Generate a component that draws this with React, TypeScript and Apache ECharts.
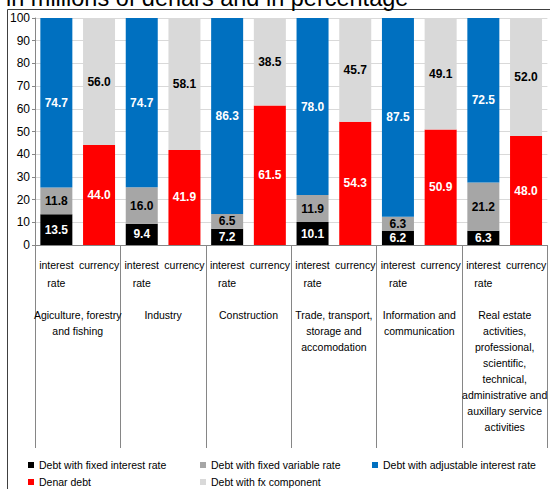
import React, { useEffect, useRef } from 'react';
import * as echarts from 'echarts';

const groups = [
  'Agiculture, forestry\nand fishing',
  'Industry',
  'Construction',
  'Trade, transport,\nstorage and\naccomodation',
  'Information and\ncommunication',
  'Real estate\nactivities,\nprofessional,\nscientific,\ntechnical,\nadministrative and\nauxillary service\nactivities',
];
const barTypes = ['interest\nrate', 'currency'];

const fixedRate = [13.5, 9.4, 7.2, 10.1, 6.2, 6.3];
const fixedVariable = [11.8, 16.0, 6.5, 11.9, 6.3, 21.2];
const adjustable = [74.7, 74.7, 86.3, 78.0, 87.5, 72.5];
const denar = [44.0, 41.9, 61.5, 54.3, 50.9, 48.0];
const fxComponent = [56.0, 58.1, 38.5, 45.7, 49.1, 52.0];

const titleText = 'in millions of denars and in percentage';

const SANS = '"Liberation Sans", Arial, sans-serif';

export default function App() {
  const ref = useRef<HTMLDivElement>(null);
  useEffect(() => {
    if (!ref.current) return;
    const chart = echarts.init(ref.current, undefined, { renderer: 'svg' });
    const categories = groups.flatMap(() => barTypes);
    const onInterest = (arr: number[]) => arr.flatMap((v) => [v, null]);
    const onCurrency = (arr: number[]) => arr.flatMap((v) => [null, v]);

    const mk = (name: string, data: (number | null)[], color: string, labelColor: string) => ({
      name,
      type: 'bar',
      stack: 'all',
      xAxisIndex: 0,
      barWidth: 32,
      data,
      itemStyle: { color },
      label: {
        show: true,
        position: 'inside',
        color: labelColor,
        fontFamily: SANS,
        fontWeight: 'bold',
        fontSize: 12,
        formatter: (p: any) => (p.value == null ? '' : Number(p.value).toFixed(1)),
      },
    });

    const legendText = { color: '#000', fontFamily: SANS, fontSize: 10.5, lineHeight: 12 };
    const legendBase = {
      orient: 'vertical',
      top: 459,
      itemWidth: 6,
      itemHeight: 6,
      itemGap: 5,
      icon: 'rect',
      padding: 0,
      textStyle: legendText,
    };

    chart.setOption({
      animation: false,
      grid: { left: 35, top: 18, width: 516, height: 227, containLabel: false },
      graphic: [
        {
          type: 'rect',
          shape: { x: 7.5, y: 9.5, width: 700, height: 700 },
          style: { fill: 'none', stroke: '#404040', lineWidth: 1 },
          silent: true,
        },
        {
          type: 'text',
          x: 6,
          y: -2.5,
          style: {
            text: titleText,
            font: '23.5px "Liberation Sans", Arial, sans-serif',
            fill: '#000',
            verticalAlign: 'middle',
          },
          silent: true,
        },
      ],
      legend: [
        { ...legendBase, left: 28, data: ['Debt with fixed interest rate', 'Denar debt'] },
        { ...legendBase, left: 200, data: ['Debt with fixed variable rate', 'Debt with fx component'] },
        { ...legendBase, left: 372, data: ['Debt with adjustable interest rate'] },
      ],
      xAxis: [
        {
          type: 'category',
          data: categories,
          position: 'bottom',
          axisLine: { show: true, lineStyle: { color: '#868686', width: 1 } },
          axisTick: { show: false },
          axisLabel: {
            interval: 0,
            margin: 11,
            color: '#000',
            fontFamily: SANS,
            fontSize: 10.5,
            lineHeight: 18,
          },
          splitLine: { show: false },
        },
        {
          type: 'category',
          data: groups,
          position: 'bottom',
          offset: 0,
          axisLine: { show: false },
          axisTick: { show: true, length: 203, lineStyle: { color: '#868686', width: 1 } },
          axisLabel: {
            interval: 0,
            margin: 62,
            color: '#000',
            fontFamily: SANS,
            fontSize: 10.5,
            lineHeight: 16,
          },
          splitLine: { show: false },
        },
      ],
      yAxis: {
        type: 'value',
        min: 0,
        max: 100,
        interval: 10,
        axisLine: { show: true, lineStyle: { color: '#868686' } },
        axisTick: { show: true, length: 3, lineStyle: { color: '#868686' } },
        axisLabel: {
          color: '#000',
          fontFamily: SANS,
          fontSize: 12,
          margin: 5,
        },
        splitLine: { show: true, lineStyle: { color: '#D9D9D9', width: 1 } },
      },
      series: [
        mk('Debt with fixed interest rate', onInterest(fixedRate), '#000000', '#ffffff'),
        mk('Debt with fixed variable rate', onInterest(fixedVariable), '#A6A6A6', '#000000'),
        mk('Debt with adjustable interest rate', onInterest(adjustable), '#0070C0', '#ffffff'),
        mk('Denar debt', onCurrency(denar), '#FF0000', '#ffffff'),
        mk('Debt with fx component', onCurrency(fxComponent), '#D9D9D9', '#000000'),
      ],
    });
    return () => chart.dispose();
  }, []);
  return (
    <div
      ref={ref}
      style={{ position: 'fixed', left: 0, top: 0, width: 550, height: 489, background: '#fff' }}
    />
  );
}
